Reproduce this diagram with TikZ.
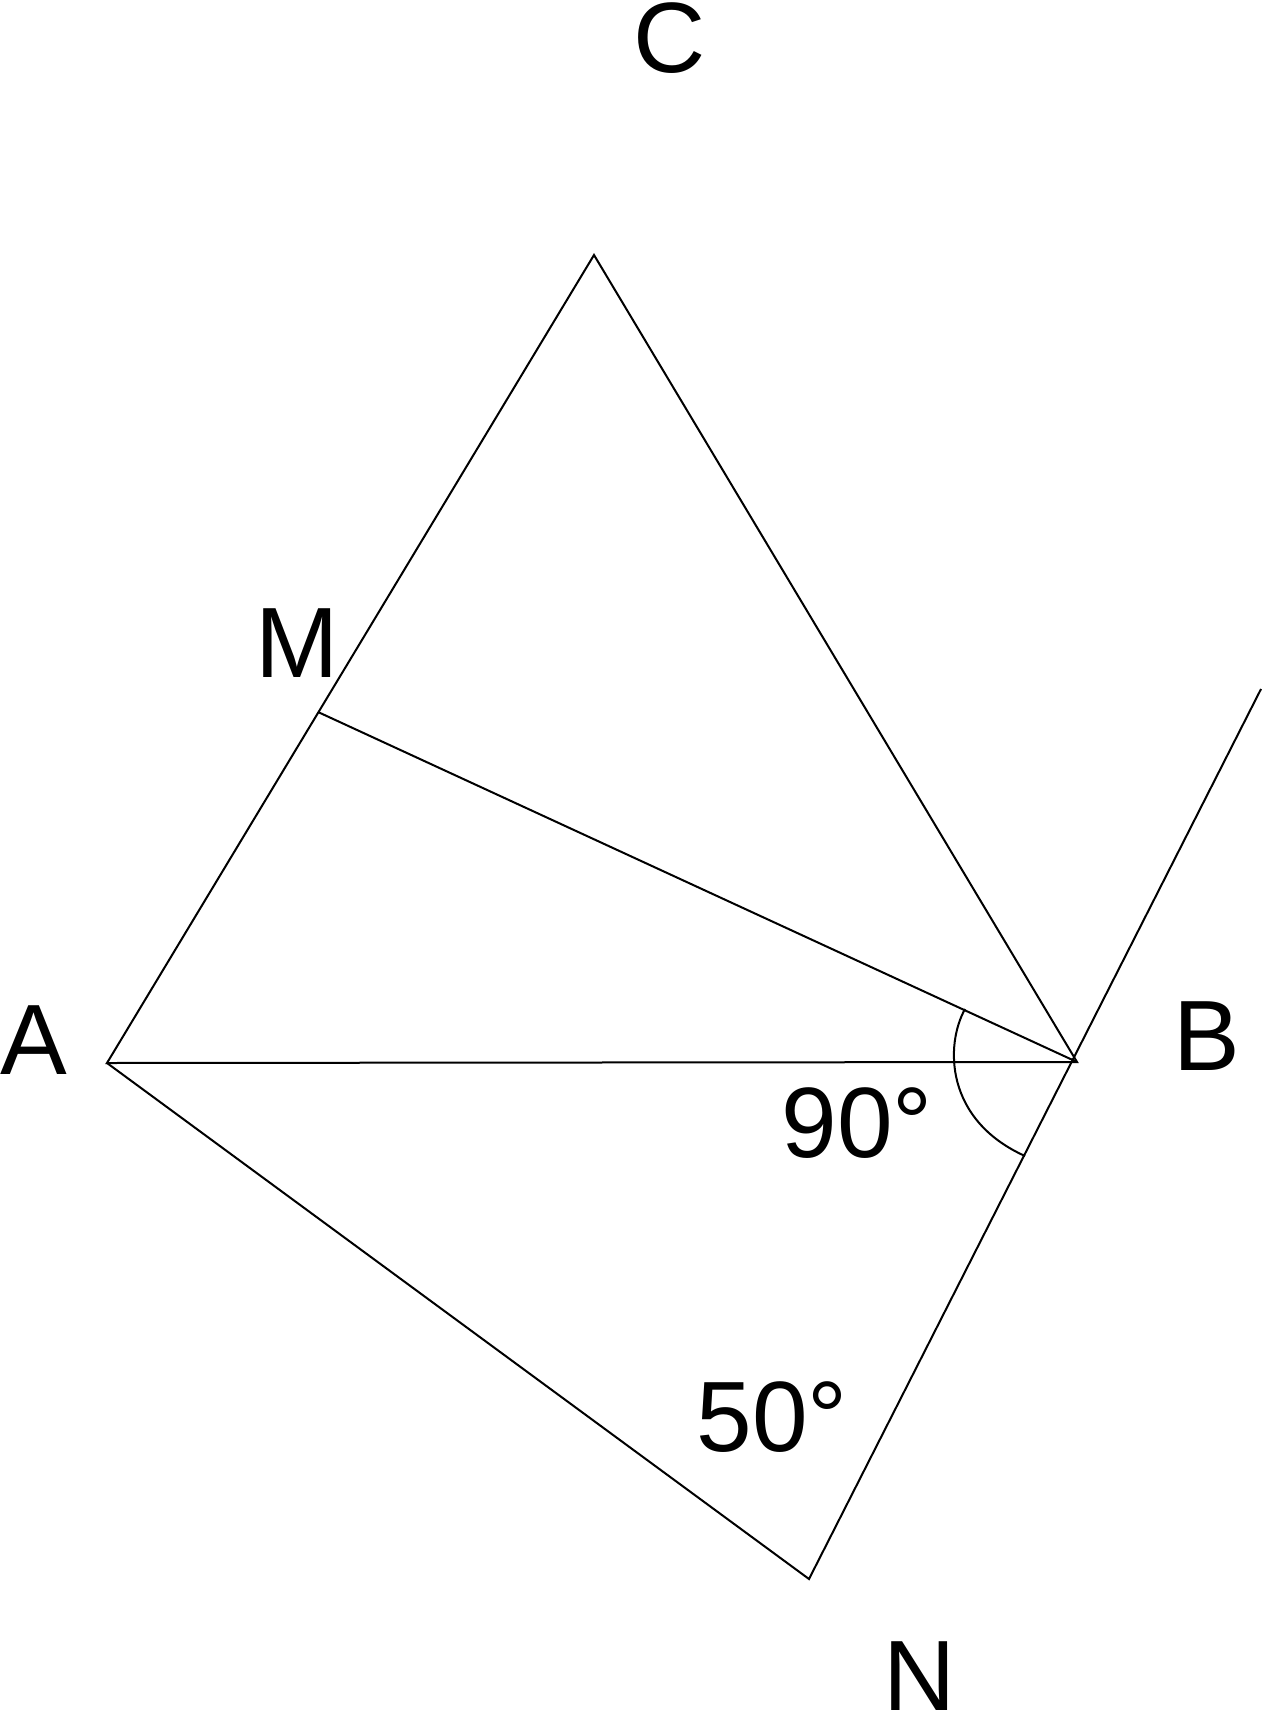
\documentclass[tikz,border=0pt]{standalone}
\usepackage{fontspec}
\setmainfont{Liberation Sans}
\begin{document}
\begin{tikzpicture}[x=0.5pt,y=-0.5pt,
  edge/.style={line width=1pt,line join=miter},
  lbl/.style={inner sep=0pt,anchor=base,font=\fontsize{50}{60}\selectfont}]
\useasboundingbox (0,0) rectangle (1263,1711);
\coordinate (A) at (107,1063);
\coordinate (B) at (1077,1062);
\coordinate (C) at (594,255);
\coordinate (M) at (318,712);
\coordinate (N) at (809,1579);
\coordinate (E) at (1261,689);
\coordinate (P1) at (965,1009);
\coordinate (P2) at (1025,1156);
\draw[edge] (A) -- (C) -- (B) -- cycle;
\draw[edge] (M) -- (B);
\draw[edge] (A) -- (N) -- (E);
\draw[edge] (P1) .. controls (945,1045) and (945,1120) .. (P2);
\node[lbl] (lA) at (34,1074) {A};
\node[lbl] (lB) at (1207,1070) {B};
\node[lbl] (lC) at (670,73) {C};
\node[lbl] (lM) at (297,677) {M};
\node[lbl] (lN) at (920,1710) {N};
\node[lbl] (l90) at (857,1157) {90°};
\node[lbl] (l50) at (772,1451) {50°};
\end{tikzpicture}
\end{document}
